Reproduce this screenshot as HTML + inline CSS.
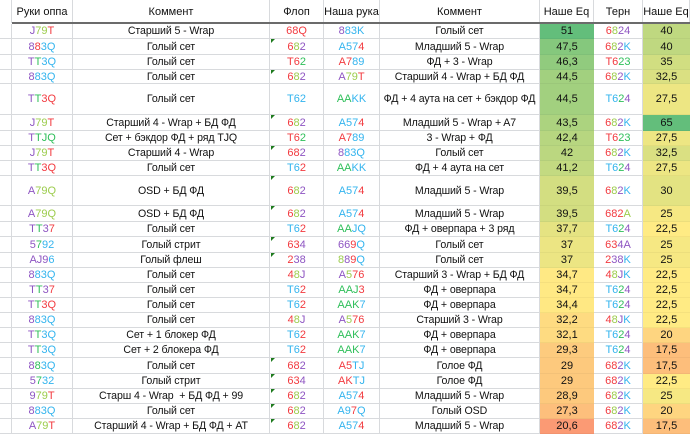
<!DOCTYPE html>
<html><head><meta charset="utf-8">
<style>
body{margin:0;background:#fff;width:700px;height:426px;overflow:hidden;font-family:"Liberation Sans","DejaVu Sans",sans-serif;font-size:11px;color:#111}
#sheet{position:relative;width:700px;height:426px}
.c{position:absolute;box-sizing:border-box;border-right:1px solid #d8dadd;border-bottom:1px solid #d8dadd;display:flex;align-items:center;justify-content:center;white-space:pre;overflow:hidden}
.cm{font-size:10.6px;letter-spacing:-0.1px}
.r{color:#f23a3f}.b{color:#33b4ee}.g{color:#2fbf5a}.l{color:#9ccc4c}.p{color:#8e55c2}
.tri{position:absolute;width:0;height:0;border-top:4px solid #1e7a1e;border-right:4px solid transparent}
#hl{position:absolute;left:12px;top:22px;width:678px;height:2px;background:#6b6b6b}
</style></head><body>
<div id="sheet"></div>
<script>
const oppHands=["J79T","883Q","TT3Q","883Q","TT3Q","J79T","TTJQ","J79T","TT3Q","A79Q","A79Q","TT37","5792","AJ96","883Q","TT37","TT3Q","883Q","TT3Q","TT3Q","883Q","5732","979T","883Q","A79T"];
const oppColors=["pllr","prbb","pgbb","pbbb","pgrr","pllr","pggg","pllr","pgrr","plll","plll","pgpr","pgbb","pppb","pbbb","pgpr","pgrr","pbbb","pgbb","pgbb","pgbb","pgbb","pllr","pbbb","pllr"];
const comments1=["Старший 5 - Wrap","Голый сет","Голый сет","Голый сет","Голый сет","Старший 4 - Wrap + БД ФД","Сет + бэкдор ФД + ряд TJQ","Старший 4 - Wrap","Голый сет","OSD + БД ФД","OSD + БД ФД","Голый сет","Голый стрит","Голый флеш","Голый сет","Голый сет","Голый сет","Голый сет","Сет + 1 блокер ФД","Сет + 2 блокера ФД","Голый сет","Голый стрит","Старш 4 - Wrap  + БД ФД + 99","Голый сет","Старший 4 - Wrap + БД ФД + AT"];
const flops=["68Q","682","T62","682","T62","682","T62","682","T62","682","682","T62","634","238","48J","T62","T62","48J","T62","T62","682","634","682","682","682"];
const flopColors=["rrr","rlp","rrg","rlp","bbb","rlp","rrg","rrp","bbr","rlp","rlp","bbr","rrp","rpp","rlp","bbr","bbr","rlp","bbr","bbr","rrp","rrp","rlp","rlp","rlp"];
const ourHands=["883K","A574","A789","A79T","AAKK","A574","A789","883Q","AAKK","A574","A574","AAJQ","669Q","889Q","A576","AAJ3","AAK7","A576","AAK7","AAK7","A5TJ","AKTJ","A574","A97Q","A574"];
const ourColors=["pbbb","bbbr","rrbb","pllr","ggbb","bbbr","rrbb","pbbb","ggbb","bbbr","bbbr","ggbb","pprb","lprb","plrr","gggr","gggb","plrr","gggb","gggb","rrbb","rrbb","bbbr","bbrb","bbbr"];
const comments2=["Голый сет","Младший 5 - Wrap","ФД + 3 - Wrap","Старший 4 - Wrap + БД ФД","ФД + 4 аута на сет + бэкдор ФД","Младший 5 - Wrap + A7","3 - Wrap + ФД","Голый сет","ФД + 4 аута на сет","Младший 5 - Wrap","Младший 5 - Wrap","ФД + оверпара + 3 ряд","Голый сет","Голый сет","Старший 3 - Wrap + БД ФД","ФД + оверпара","ФД + оверпара","Старший 3 - Wrap","ФД + оверпара","ФД + оверпара","Голое ФД","Голое ФД","Младший 5 - Wrap","Голый OSD","Младший 5 - Wrap"];
const eqFlop=[51,47.5,46.3,44.5,44.5,43.5,42.4,42,41.2,39.5,39.5,37.7,37,37,34.7,34.7,34.4,32.2,32.1,29.3,29,29,28.9,27.3,20.6];
const turns=["6824","682K","T623","682K","T624","682K","T623","682K","T624","682K","682A","T624","634A","238K","48JK","T624","T624","48JK","T624","T624","682K","682K","682K","682K","682K"];
const turnColors=["rlpp","rlpb","rrgg","rlpb","bbgp","rlpb","rrgg","rlpb","bbgp","rlpb","rrrl","bbgp","rrpp","rppb","rlpb","bbgp","bbgp","rlpb","bbgp","bbgp","rrpb","rrpb","rlpb","rlpb","rrpb"];
const eqTurn=[40,40,35,32.5,27.5,65,27.5,32.5,27.5,30,25,22.5,25,25,22.5,22.5,22.5,22.5,20,17.5,17.5,22.5,25,20,17.5];
const flopMarks=[0,1,0,1,0,1,0,1,0,1,1,0,1,1,0,0,0,0,0,0,1,1,1,1,1];

const colX=[12,73,270,324,380,540,594,643,690];
const rowH=[15,16,15,14,31,16,15,15,15,30,16,15,16,15,15,15,15,15,15,15,16,15,15,15,15];
const sheet=document.getElementById('sheet');
function mix(a,b,t){return 'rgb('+a.map((v,i)=>Math.round(v+(b[i]-v)*t)).join(',')+')';}
function scale(v,min,mid,max){
  const R=[248,105,107],Y=[255,235,132],G=[99,190,123];
  if(v<=mid) return mix(R,Y,Math.max(0,(v-min)/(mid-min)));
  return mix(Y,G,Math.min(1,(v-mid)/(max-mid)));
}
function fmt(v){return String(v).replace('.',',');}
function cell(x0,x1,y,h,name){
  const d=document.createElement('div');d.className='c';
  d.style.left=x0+'px';d.style.top=y+'px';d.style.width=(x1-x0)+'px';d.style.height=h+'px';
  
  
  sheet.appendChild(d);return d;
}
function colored(d,txt,cols){
  for(let i=0;i<txt.length;i++){const s=document.createElement('span');s.className=cols[i]||'p';s.textContent=txt[i];d.appendChild(s);}
}
const hdrs=["Руки оппа","Коммент","Флоп","Наша рука","Коммент","Наше Eq","Терн","Наше Eq"];
const hnames=["header-opp-hands","header-comment-1","header-flop","header-our-hand","header-comment-2","header-eq-flop","header-turn","header-eq-turn"];
const e0=cell(0,12,0,23,'row-header-blank');e0.style.borderBottom='none';
for(let i=0;i<8;i++){const d=cell(colX[i],colX[i+1],0,23,hnames[i]);d.textContent=hdrs[i];d.style.borderBottom='none';}
const hl=document.createElement('div');hl.id='hl';


sheet.appendChild(hl);
let y=24;
for(let r=0;r<oppHands.length;r++){
  const h=rowH[r];
  cell(0,12,y,h,'row-gutter');
  colored(cell(colX[0],colX[1],y,h,'opp-hand-cell'),oppHands[r],oppColors[r]);
  const c1=cell(colX[1],colX[2],y,h,'comment-cell');c1.textContent=comments1[r];c1.classList.add('cm');
  colored(cell(colX[2],colX[3],y,h,'flop-cell'),flops[r],flopColors[r]);
  colored(cell(colX[3],colX[4],y,h,'our-hand-cell'),ourHands[r],ourColors[r]);
  const c2=cell(colX[4],colX[5],y,h,'comment2-cell');c2.textContent=comments2[r];c2.classList.add('cm');
  const e1=cell(colX[5],colX[6],y,h,'eq-flop-cell');e1.textContent=fmt(eqFlop[r]);e1.style.background=scale(eqFlop[r],12,35,51);e1.style.borderRight='none';e1.style.borderBottomColor='rgba(0,0,0,0.04)';
  colored(cell(colX[6],colX[7],y,h,'turn-cell'),turns[r],turnColors[r]);
  const e2=cell(colX[7],colX[8],y,h,'eq-turn-cell');e2.textContent=fmt(eqTurn[r]);e2.style.background=scale(eqTurn[r],8,22.5,65);e2.style.borderRight='none';e2.style.borderBottomColor='rgba(0,0,0,0.04)';
  if(flopMarks[r]){const t=document.createElement('div');t.className='tri';t.style.left=(colX[2]+1)+'px';t.style.top=y+'px';
    
    
    sheet.appendChild(t);}
  y+=h;
}
</script>
</body></html>
